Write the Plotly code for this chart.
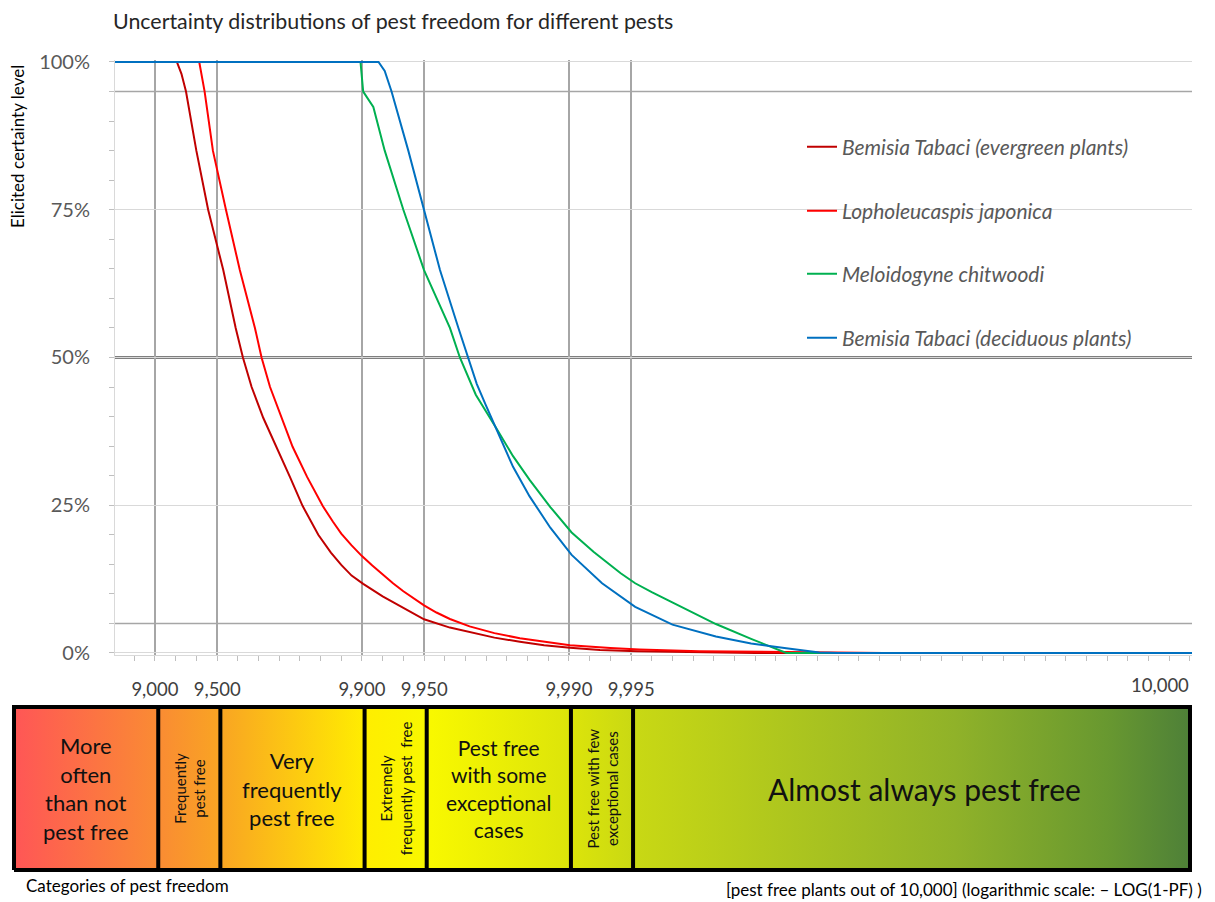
import numpy as np
import plotly.graph_objects as go

# ---------------- data (x in -LOG10(1-PF), y = elicited certainty) ----------------
series_names = [
    "Bemisia Tabaci (evergreen plants)",
    "Lopholeucaspis japonica",
    "Meloidogyne chitwoodi",
    "Bemisia Tabaci (deciduous plants)",
]
series_colors = ["#C00000", "#FF0000", "#00B050", "#0070C0"]

bt_evergreen_x = [0.807, 1.106, 1.128, 1.15, 1.20, 1.257, 1.33, 1.39, 1.425, 1.467, 1.523,
                  1.588, 1.652, 1.713, 1.789, 1.85, 1.90, 1.95, 2.006, 2.10, 2.20, 2.30,
                  2.425, 2.52, 2.64, 2.763, 2.88, 3.005, 3.15, 3.33, 3.6, 3.9, 6.01]
bt_evergreen_y = [1.0, 1.0, 0.98, 0.95, 0.85, 0.75, 0.648, 0.55, 0.50, 0.45, 0.398,
                  0.349, 0.298, 0.249, 0.20, 0.170, 0.149, 0.131, 0.117, 0.096, 0.076, 0.057,
                  0.043, 0.035, 0.026, 0.019, 0.013, 0.009, 0.005, 0.003, 0.001, 0.0, 0.0]

lj_x = [0.807, 1.214, 1.24, 1.28, 1.343, 1.41, 1.483, 1.515, 1.556, 1.612, 1.665, 1.735,
        1.81, 1.86, 1.90, 1.95, 2.0, 2.05, 2.10, 2.15, 2.20, 2.25, 2.30, 2.36, 2.425,
        2.52, 2.64, 2.763, 2.88, 3.005, 3.2, 3.34, 3.63, 4.0, 4.52, 6.01]
lj_y = [1.0, 1.0, 0.95, 0.85, 0.75, 0.648, 0.55, 0.50, 0.45, 0.398, 0.349, 0.298,
        0.249, 0.222, 0.202, 0.182, 0.164, 0.148, 0.1325, 0.118, 0.1045, 0.092, 0.0805,
        0.0685, 0.0575, 0.045, 0.0336, 0.025, 0.0186, 0.013, 0.0085, 0.006, 0.003, 0.0015,
        0.0, 0.0]

mc_x = [0.807, 1.993, 2.006, 2.055, 2.11, 2.2, 2.30, 2.425, 2.473, 2.55, 2.65, 2.73, 2.81,
        2.91, 3.013, 3.12, 3.25, 3.32, 3.40, 3.50, 3.60, 3.71, 3.88, 4.035, 4.05, 6.01]
mc_y = [1.0, 1.0, 0.95, 0.924, 0.85, 0.75, 0.648, 0.55, 0.50, 0.437, 0.38, 0.333, 0.293,
        0.247, 0.204, 0.171, 0.135, 0.118, 0.103, 0.086, 0.069, 0.049, 0.024, 0.002, 0.0, 0.0]

bt_deciduous_x = [0.807, 2.08, 2.11, 2.143, 2.224, 2.30, 2.377, 2.466, 2.514, 2.555, 2.60,
                  2.65, 2.73, 2.81, 2.91, 3.013, 3.16, 3.32, 3.50, 3.71, 3.88, 4.05, 4.21,
                  4.3, 6.01]
bt_deciduous_y = [1.0, 1.0, 0.985, 0.95, 0.85, 0.75, 0.648, 0.55, 0.50, 0.455, 0.418,
                  0.378, 0.315, 0.265, 0.212, 0.166, 0.118, 0.078, 0.048, 0.028, 0.016, 0.008,
                  0.001, 0.0, 0.0]

series_x = [bt_evergreen_x, lj_x, mc_x, bt_deciduous_x]
series_y = [bt_evergreen_y, lj_y, mc_y, bt_deciduous_y]

# x-axis ticks (pest free plants out of 10,000)
tick_pf = [0.9, 0.95, 0.99, 0.995, 0.999, 0.9995]
tick_text = ["9,000", "9,500", "9,900", "9,950", "9,990", "9,995"]
end_tick_pos = [5.855]
end_tick_text = ["10,000"]

y_tickvals = [0, 0.25, 0.5, 0.75, 1.0]
reference_levels = [0.05, 0.5, 0.95]

# categories of pest freedom (edges given as PF)
category_pf_edges = [0.5, 0.9, 0.95, 0.99, 0.995, 0.999, 0.9995, 0.999999]
category_labels = [
    "More<br>often<br>than not<br>pest free",
    "Frequently<br>pest free",
    "Very<br>frequently<br>pest free",
    "Extremely<br>frequently pest  free",
    "Pest free<br>with some<br>exceptional<br>cases",
    "Pest free with few<br>exceptional cases",
    "Almost always pest free",
]
category_rotated = [False, True, False, True, False, True, False]
category_font = [22, 15, 22, 15, 21, 15, 30]
category_xshift = [0, 0, 0, 0, 0, 0, 13]

gradient_scale = [
    [0.0, "#FF5656"], [0.12, "#FA8A34"], [0.175, "#F9A423"], [0.30, "#FFEE00"],
    [0.355, "#F8F800"], [0.475, "#DCE40A"], [0.53, "#C8D814"], [0.80, "#90B229"],
    [0.93, "#689830"], [1.0, "#4E8038"],
]

# ---------------- helpers ----------------
def nlog(pf):
    return -np.log10(1 - np.asarray(pf, dtype=float))

tick_pos = nlog(tick_pf).tolist()
cat_edges = nlog(category_pf_edges).tolist()

FONT = "Lato"
OFF = 8  # page body margin
W, H = 1215 - OFF, 902 - OFF
ML, MR, MT, MB = 2, 21, 50, 26
PW = W - ML - MR
PH = H - MT - MB

def px_x(p):
    return (p - OFF - ML) / PW

def px_y(p):
    return (H - MB - (p - OFF)) / PH

fig = go.Figure()

# curves
for i, (nm, col, xs, ys) in enumerate(zip(series_names, series_colors, series_x, series_y)):
    fig.add_trace(go.Scatter(
        x=xs, y=ys, mode="lines", name=f"<i>{nm}</i>",
        line=dict(color=col, width=2),
        legend="legend" if i == 0 else f"legend{i+1}",
        xaxis="x", yaxis="y", hoverinfo="skip",
    ))

# invisible trace for end label axis
fig.add_trace(go.Scatter(x=end_tick_pos, y=[0], xaxis="x3", yaxis="y", mode="markers",
                         marker=dict(opacity=0), showlegend=False, hoverinfo="skip"))

# category bar with gradient
fig.add_trace(go.Scatter(
    x=[cat_edges[0], cat_edges[-1], cat_edges[-1], cat_edges[0], cat_edges[0]],
    y=[0, 0, 1, 1, 0], xaxis="x2", yaxis="y2", mode="lines",
    fill="toself",
    fillgradient=dict(type="horizontal", colorscale=gradient_scale),
    line=dict(color="black", width=4), showlegend=False, hoverinfo="skip",
))
div_x, div_y = [], []
for e in cat_edges[1:-1]:
    div_x += [e, e, None]
    div_y += [0, 1, None]
fig.add_trace(go.Scatter(x=div_x, y=div_y, xaxis="x2", yaxis="y2", mode="lines",
                         line=dict(color="black", width=4), showlegend=False, hoverinfo="skip"))

annotations = []
for i, lab in enumerate(category_labels):
    cx = (cat_edges[i] + cat_edges[i + 1]) / 2
    annotations.append(dict(
        x=cx, y=0.5, xref="x2", yref="y2", text=lab, showarrow=False,
        xanchor="center", yanchor="middle", xshift=category_xshift[i],
        textangle=-90 if category_rotated[i] else 0,
        font=dict(family=FONT, size=category_font[i], color="#111111"),
        align="center",
    ))

annotations.append(dict(text="Elicited certainty level", x=px_x(18), y=px_y(147),
                        xref="paper", yref="paper", textangle=-90, showarrow=False,
                        xanchor="center", yanchor="middle",
                        font=dict(family=FONT, size=17, color="#000000")))
annotations.append(dict(text="Categories of pest freedom", x=px_x(24), y=px_y(885),
                        xref="paper", yref="paper", xanchor="left", yanchor="middle",
                        showarrow=False, font=dict(family=FONT, size=17, color="#000000")))
annotations.append(dict(text="[pest free plants out of 10,000] (logarithmic scale: \u2013 LOG(1-PF) )",
                        x=px_x(1204), y=px_y(889), xref="paper", yref="paper",
                        xanchor="right", yanchor="middle", showarrow=False,
                        font=dict(family=FONT, size=17, color="#000000")))

shapes = []
for lv in reference_levels:
    shapes.append(dict(type="line", xref="x domain", yref="y", x0=0, x1=1, y0=lv, y1=lv,
                       line=dict(color="#7F7F7F" if lv == 0.5 else "#A6A6A6",
                                 width=3 if lv == 0.5 else 1.5), layer="below"))

XR = [0.807, 6.010]
YR = [-0.004, 1.004]
X2R = [0.2816, 6.0194]
Y2R = [-0.03, 1.03]

legend_rows = [147, 211, 274, 338]
legends = {}
for i, r in enumerate(legend_rows):
    key = "legend" if i == 0 else f"legend{i+1}"
    legends[key] = dict(x=px_x(802), y=px_y(r), xanchor="left", yanchor="middle",
                        bgcolor="rgba(0,0,0,0)",
                        font=dict(family=FONT, size=21, color="#595959"))

fig.update_layout(
    width=W, height=H,
    margin=dict(l=ML, r=MR, t=MT, b=MB),
    paper_bgcolor="white", plot_bgcolor="white",
    title=dict(text="Uncertainty distributions of pest freedom for different pests",
               x=(113 - OFF) / W, y=1 - (22 - OFF) / H, xref="container", yref="container",
               xanchor="left", yanchor="middle",
               font=dict(family=FONT, size=21.4, color="#262626")),
    xaxis=dict(domain=[px_x(115), px_x(1192)], range=XR, anchor="y",
               tickmode="array", tickvals=tick_pos, ticktext=tick_text,
               showgrid=True, gridcolor="#A6A6A6", gridwidth=1.5,
               ticks="", ticklabelstandoff=17, zeroline=False,
               showline=True, linecolor="#D9D9D9", linewidth=1,
               minor=dict(ticks="outside", tick0=0, dtick=0.1, ticklen=5,
                          tickcolor="#BFBFBF", showgrid=False),
               tickfont=dict(family=FONT, size=18.5, color="#404040")),
    xaxis3=dict(overlaying="x", anchor="y", range=XR, side="bottom",
                tickmode="array", tickvals=end_tick_pos, ticktext=end_tick_text,
                showgrid=False, ticks="", ticklabelstandoff=17, zeroline=False,
                showline=False,
                tickfont=dict(family=FONT, size=18.5, color="#404040")),
    yaxis=dict(domain=[px_y(653 + 0.004 * 591), px_y(62 - 0.004 * 591)], range=YR,
               anchor="x", tickmode="array", tickvals=y_tickvals, tickformat=".0%",
               showgrid=True, gridcolor="#D9D9D9", gridwidth=1, zeroline=False,
               showline=True, linecolor="#D9D9D9", ticks="", ticklabelstandoff=20,
               minor=dict(ticks="outside", tick0=0, dtick=0.05, ticklen=5,
                          tickcolor="#BFBFBF", showgrid=False),
               tickfont=dict(family=FONT, size=20, color="#595959")),
    xaxis2=dict(domain=[0, 1], range=X2R, anchor="y2", visible=False),
    yaxis2=dict(domain=[px_y(874.89), px_y(702.11)], range=Y2R, anchor="x2", visible=False),
    annotations=annotations,
    shapes=shapes,
    showlegend=True,
    **legends,
)

fig.write_html("out.html")
